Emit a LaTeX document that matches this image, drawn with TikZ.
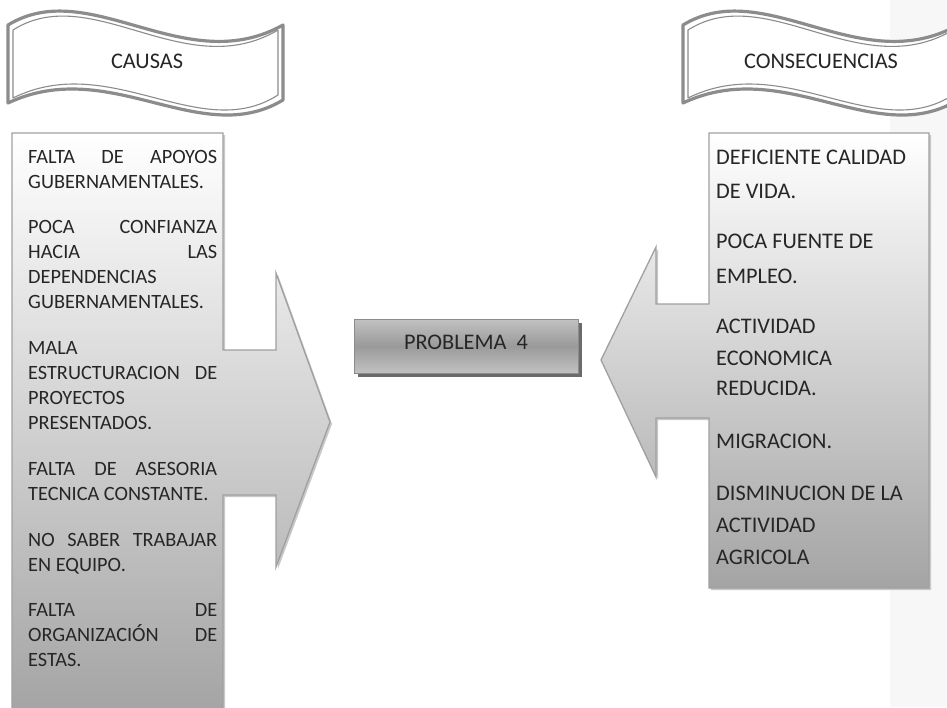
\documentclass[tikz,border=0pt]{standalone}
\usepackage{fontspec}
\setmainfont{Carlito}
\definecolor{txt}{HTML}{262626}
\definecolor{bord}{HTML}{A0A0A0}
\definecolor{bannerc}{HTML}{8C8C8C}
\definecolor{strip}{HTML}{F7F7F7}
\definecolor{shadebot}{HTML}{A4A4A4}
\definecolor{boxedge}{HTML}{C2C2C2}
\definecolor{boxmid}{HTML}{9A9A9A}
\definecolor{boxshadow}{HTML}{6B6B6B}
\definecolor{softshadow}{HTML}{C8C8C8}
\newcommand{\jus}[1]{\makebox[189pt][s]{#1}}
\begin{document}
\begin{tikzpicture}[x=1pt,y=-1pt,
  ltext/.style={anchor=base west,inner sep=0pt,text=txt,font=\fontsize{20.3}{24}\selectfont},
  rtext/.style={anchor=base west,inner sep=0pt,text=txt,font=\fontsize{22.3}{27}\selectfont},
  btext/.style={anchor=base,inner sep=0pt,text=txt,font=\fontsize{22.3}{27}\selectfont},
  arrowshape/.style={draw=bord,line width=1.3pt,top color=white,bottom color=shadebot},
  shadowshape/.style={fill=softshadow,draw=none},
  bannerout/.style={draw=bannerc,line width=3.2pt,fill=white,line join=round},
  bannerin/.style={draw=bannerc,line width=1.1pt,line join=round}]
\useasboundingbox (0,0) rectangle (947,707);
\clip (0,0) rectangle (947,707);
\fill[strip] (890,0) rectangle (947,707);

% banners
\foreach \dx in {0,675}{
  \begin{scope}[xshift=\dx pt]
    \path[bannerout] (8,25) .. controls (90,-25) and (185,80) .. (283,25) -- (283,100) .. controls (200,150) and (110,55) .. (8,103) -- cycle;
    \path[bannerin] (13,30) .. controls (92,-20) and (185,85) .. (278,30) -- (278,95) .. controls (200,145) and (110,50) .. (13,98) -- cycle;
  \end{scope}
}
\node[btext] (causas) at (147,68) {CAUSAS};
\node[btext] (consec) at (821,68) {CONSECUENCIAS};

% left arrow (causes)
\path[shadowshape,xshift=2pt,yshift=-2pt] (12,133) -- (223,133) -- (223,350) -- (276,350) -- (276,273) -- (330,422) -- (276,567) -- (276,495) -- (223,495) -- (223,712) -- (12,712) -- cycle;
\path[arrowshape] (12,133) -- (223,133) -- (223,350) -- (276,350) -- (276,273) -- (330,422) -- (276,567) -- (276,495) -- (223,495) -- (223,712) -- (12,712) -- cycle;

% right arrow (consequences)
\path[shadowshape,xshift=2pt,yshift=-2pt] (929,133) -- (709,133) -- (709,304) -- (656,304) -- (656,247) -- (601,360) -- (656,477) -- (656,418) -- (709,418) -- (709,588) -- (929,588) -- cycle;
\path[arrowshape] (929,133) -- (709,133) -- (709,304) -- (656,304) -- (656,247) -- (601,360) -- (656,477) -- (656,418) -- (709,418) -- (709,588) -- (929,588) -- cycle;

% central problem box
\fill[boxshadow] (358,323) rectangle (582,377);
\path[draw=bannerc,line width=1pt,top color=boxedge,bottom color=boxedge,middle color=boxmid] (354,319) rectangle (578,373);
\node[btext] (prob) at (466,349) {PROBLEMA\ \ 4};

% causes text
\node[ltext] (c1)  at (28,163.5) {\jus{FALTA DE APOYOS}};
\node[ltext] (c2)  at (28,188.5) {GUBERNAMENTALES.};
\node[ltext] (c3)  at (28,233.5) {\jus{POCA CONFIANZA}};
\node[ltext] (c4)  at (28,258.5) {\jus{HACIA LAS}};
\node[ltext] (c5)  at (28,283.5) {DEPENDENCIAS};
\node[ltext] (c6)  at (28,308.5) {GUBERNAMENTALES.};
\node[ltext] (c7)  at (28,354.5) {MALA};
\node[ltext] (c8)  at (28,379.5) {\jus{ESTRUCTURACION DE}};
\node[ltext] (c9)  at (28,404.5) {PROYECTOS};
\node[ltext] (c10) at (28,429.5) {PRESENTADOS.};
\node[ltext] (c11) at (28,475.5) {\jus{FALTA DE ASESORIA}};
\node[ltext] (c12) at (28,500.5) {TECNICA CONSTANTE.};
\node[ltext] (c13) at (28,546.5) {\jus{NO SABER TRABAJAR}};
\node[ltext] (c14) at (28,571.5) {EN EQUIPO.};
\node[ltext] (c15) at (28,616.5) {\jus{FALTA DE}};
\node[ltext] (c16) at (28,641.5) {\jus{ORGANIZACIÓN DE}};
\node[ltext] (c17) at (28,666.5) {ESTAS.};

% consequences text
\node[rtext] (k1)  at (716,164.2) {DEFICIENTE CALIDAD};
\node[rtext] (k2)  at (716,198.9) {DE VIDA.};
\node[rtext] (k3)  at (716,248.9) {POCA FUENTE DE};
\node[rtext] (k4)  at (716,283.9) {EMPLEO.};
\node[rtext] (k5)  at (716,333.9) {ACTIVIDAD};
\node[rtext] (k6)  at (716,365.5) {ECONOMICA};
\node[rtext] (k7)  at (716,395.9) {REDUCIDA.};
\node[rtext] (k8)  at (716,448.9) {MIGRACION.};
\node[rtext] (k9)  at (716,500.5) {DISMINUCION DE LA};
\node[rtext] (k10) at (716,532.2) {ACTIVIDAD};
\node[rtext] (k11) at (716,564.2) {AGRICOLA};
\end{tikzpicture}
\end{document}
